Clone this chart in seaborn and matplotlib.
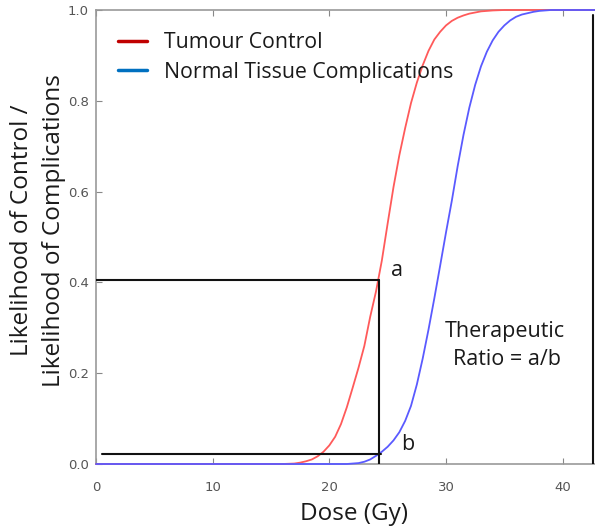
import matplotlib
matplotlib.use("Agg")
import matplotlib.pyplot as plt
from matplotlib.lines import Line2D
import seaborn as sns
import pandas as pd

# ---- data ----
tumour_dose = [0, 16, 16.5, 17, 17.5, 18, 18.5, 19, 19.5, 20, 20.5, 21, 21.5, 22, 22.5,
               23, 23.5, 24, 24.5, 25, 25.5, 26, 26.5, 27, 27.5, 28, 28.5, 29, 29.5,
               30, 30.5, 31, 31.5, 32, 33, 34, 35, 50]
tumour_control = [0.0, 0.0, 0.0005, 0.001, 0.003, 0.006, 0.010, 0.017, 0.027, 0.041, 0.060,
                  0.088, 0.125, 0.168, 0.212, 0.26, 0.324, 0.38, 0.448, 0.53, 0.61, 0.68,
                  0.74, 0.795, 0.84, 0.878, 0.91, 0.935, 0.952, 0.966, 0.976, 0.983, 0.988,
                  0.992, 0.997, 0.999, 1.0, 1.0]

normal_dose = [0, 21.5, 22, 22.5, 23, 23.5, 24, 24.5, 25, 25.5, 26, 26.5, 27, 27.5, 28,
               28.5, 29, 29.5, 30, 30.5, 31, 31.5, 32, 32.5, 33, 33.5, 34, 34.5, 35, 35.5,
               36, 36.5, 37, 37.5, 38, 39, 50]
normal_complications = [0.0, 0.0, 0.001, 0.002, 0.005, 0.010, 0.018, 0.027, 0.038, 0.052,
                        0.070, 0.095, 0.128, 0.175, 0.232, 0.296, 0.365, 0.437, 0.51, 0.58,
                        0.656, 0.725, 0.785, 0.835, 0.876, 0.908, 0.933, 0.952, 0.966, 0.977,
                        0.985, 0.99, 0.993, 0.996, 0.998, 1.0, 1.0]

series_labels = ["Tumour Control", "Normal Tissue Complications"]
marker_dose = 24.25
tcp_at_marker = 0.405
ntcp_at_marker = 0.022
right_marker_dose = 42.6
x_ticks = [0, 10, 20, 30, 40]
y_ticks = [0.0, 0.2, 0.4, 0.6, 0.8, 1.0]

sns.set_theme(style="white")
plt.rcParams["font.family"] = ["Open Sans", "DejaVu Sans"]

df_t = pd.DataFrame({"dose": tumour_dose, "p": tumour_control})
df_n = pd.DataFrame({"dose": normal_dose, "p": normal_complications})

fig = plt.figure(figsize=(5.95, 5.29), dpi=100)
# axes extends beyond the right edge (reference is cropped there)
ax = fig.add_axes([96 / 595, 65 / 529, 525 / 595, 454 / 529])

sns.lineplot(data=df_t, x="dose", y="p", ax=ax, color="#ff5a5a", lw=1.3,
             clip_on=False, zorder=3)
sns.lineplot(data=df_n, x="dose", y="p", ax=ax, color="#5a5aff", lw=1.3,
             clip_on=False, zorder=4)

ax.set_xlim(0, 45)
ax.set_ylim(0, 1)
ax.set_xticks(x_ticks)
ax.set_yticks(y_ticks)
ax.set_xticklabels([str(t) for t in x_ticks], family="DejaVu Sans")
ax.set_yticklabels([f"{t:.1f}" for t in y_ticks], family="DejaVu Sans")
ax.tick_params(axis="both", which="both", direction="in", length=4, width=0.8,
               color="#888888", labelcolor="#555555", labelsize=9.5,
               top=True, bottom=True, left=True, right=False)
ax.tick_params(axis="x", pad=12.5)
ax.tick_params(axis="y", pad=5)
for s in ["left", "top", "bottom"]:
    ax.spines[s].set_color("#999999")
    ax.spines[s].set_linewidth(1.2)
ax.spines["right"].set_visible(False)

# annotation lines
ax.plot([0, marker_dose], [tcp_at_marker, tcp_at_marker], color="#111111", lw=1.5, zorder=5)
ax.plot([marker_dose, marker_dose], [0, tcp_at_marker], color="#111111", lw=1.5, zorder=5)
ax.plot([0.5, marker_dose + 0.2], [ntcp_at_marker, ntcp_at_marker], color="#111111", lw=1.5, zorder=5)
ax.plot([right_marker_dose, right_marker_dose], [0, 0.99], color="#111111", lw=1.5, zorder=5)

txt_color = "#1a1a1a"
ax.text(25.83, 0.415, "a", fontsize=15.5, color=txt_color, ha="center", va="baseline")
ax.text(26.7, 0.031, "b", fontsize=15.5, color=txt_color, ha="center", va="baseline")
ax.text(35.05, 0.279, "Therapeutic", fontsize=15.5, color=txt_color, ha="center", va="baseline")
ax.text(35.2, 0.218, "Ratio = a/b", fontsize=15.5, color=txt_color, ha="center", va="baseline")

ax.set_xlabel("Dose (Gy)", fontsize=17.5, color=txt_color)
ax.xaxis.label.set_va("baseline")
ax.xaxis.set_label_coords(0.491, -0.124)
ax.set_ylabel("Likelihood of Control /\nLikelihood of Complications", fontsize=17.5,
              color=txt_color, linespacing=1.4)
ax.yaxis.set_label_coords(-0.058, 0.515)

handles = [Line2D([0], [0], color="#c00000", lw=2.5),
           Line2D([0], [0], color="#0070c0", lw=2.5)]
leg = ax.legend(handles, series_labels, loc="upper left", frameon=False, fontsize=15.3,
                handlelength=1.4, handletextpad=0.8, labelspacing=0.4,
                bbox_to_anchor=(0.025, 0.97), borderaxespad=0)
for t in leg.get_texts():
    t.set_color(txt_color)

fig.savefig("out.png", dpi=100)
